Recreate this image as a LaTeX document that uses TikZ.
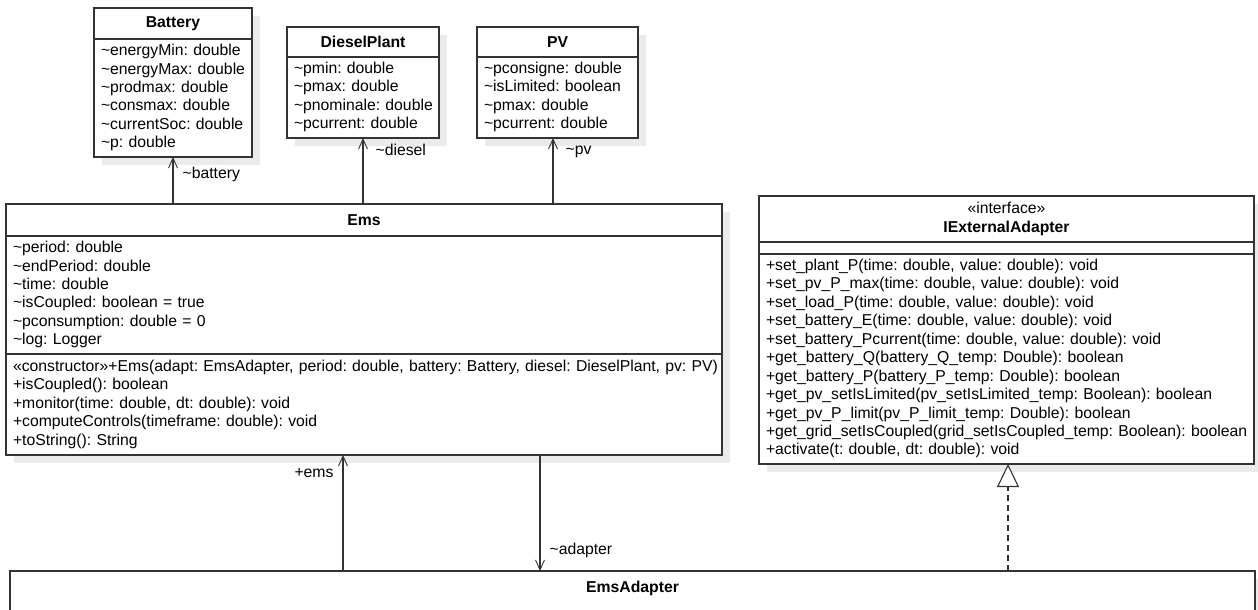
\documentclass[tikz,border=0pt]{standalone}
\usepackage{fontspec}
\setmainfont{Liberation Sans}
\usetikzlibrary{arrows.meta,positioning,shadows}
\newcommand{\pkgvis}{\textasciitilde}
\newcommand{\nohyph}{\hyphenpenalty=10000\relax\rightskip=0pt minus 40pt\relax}

\begin{document}
\begin{tikzpicture}[
  x=1pt, y=-1pt,
  font=\fontsize{15.75}{18.45}\selectfont\frenchspacing,
  cls/.style={draw=black!80, line width=1.1pt, fill=white, outer sep=0pt, inner xsep=7pt, inner ysep=0pt,
    drop shadow={shadow xshift=8pt, shadow yshift=-8pt, fill=black!8, opacity=1}},
  head/.style={cls, font=\fontsize{15.75}{18.6}\selectfont\bfseries, align=center},
  body/.style={cls, align=left, execute at begin node=\nohyph\strut, execute at end node=\strut},
  assoc/.style={-{Straight Barb[length=10pt,width=9pt,line width=0.9pt]}, line width=1.1pt, black!80},
  real/.style={-{Triangle[open,length=23pt,width=22pt,fill=white]}, line width=1.1pt, black!80, dash pattern=on 6pt off 4pt},
  lbl/.style={inner sep=1pt, text=black},
]
  \useasboundingbox (0,0) rectangle (1258,610);
  \clip (0,0) rectangle (1258,610);

  % entity classes
  \node[head, minimum width=158pt, minimum height=31pt, anchor=north west] (bathead) at (94,8) {Battery};
  \node[body, below=0pt of bathead, text width=144pt, minimum height=118pt] (batattr)
    {\pkgvis energyMin: double\\\pkgvis energyMax: double\\\pkgvis prodmax: double\\\pkgvis consmax: double\\\pkgvis currentSoc: double\\\pkgvis p: double};

  \node[head, minimum width=152pt, minimum height=30pt, anchor=north west] (dphead) at (287,27) {DieselPlant};
  \node[body, below=0pt of dphead, text width=138pt, minimum height=81pt] (dpattr)
    {\pkgvis pmin: double\\\pkgvis pmax: double\\\pkgvis pnominale: double\\\pkgvis pcurrent: double};

  \node[head, minimum width=161pt, minimum height=30pt, anchor=north west] (pvhead) at (477,27) {PV};
  \node[body, below=0pt of pvhead, text width=147pt, minimum height=81pt] (pvattr)
    {\pkgvis pconsigne: double\\\pkgvis isLimited: boolean\\\pkgvis pmax: double\\\pkgvis pcurrent: double};

  % controller
  \node[head, minimum width=716pt, minimum height=32pt, anchor=north west] (emshead) at (6,204) {Ems};
  \node[body, below=0pt of emshead, text width=702pt, minimum height=118pt] (emsattr)
    {\pkgvis period: double\\\pkgvis endPeriod: double\\\pkgvis time: double\\\pkgvis isCoupled: boolean = true\\\pkgvis pconsumption: double = 0\\\pkgvis log: Logger};
  \node[body, below=0pt of emsattr, text width=702pt, minimum height=101pt] (emsops)
    {«constructor»+Ems(adapt: EmsAdapter, period: double, battery: Battery, diesel: DieselPlant, pv: PV)\\+isCoupled(): boolean\\+monitor(time: double, dt: double): void\\+computeControls(timeframe: double): void\\+toString(): String};

  % interface
  \node[head, minimum width=495pt, minimum height=46pt, anchor=north west] (ifhead) at (759,196) {{\mdseries «interface»}\\IExternalAdapter};
  \node[cls, below=0pt of ifhead, minimum width=495pt, minimum height=12pt] (ifattr) {};
  \node[body, below=0pt of ifattr, text width=481pt, minimum height=210pt] (ifops)
    {+set\_plant\_P(time: double, value: double): void\\+set\_pv\_P\_max(time: double, value: double): void\\+set\_load\_P(time: double, value: double): void\\+set\_battery\_E(time: double, value: double): void\\+set\_battery\_Pcurrent(time: double, value: double): void\\+get\_battery\_Q(battery\_Q\_temp: Double): boolean\\+get\_battery\_P(battery\_P\_temp: Double): boolean\\+get\_pv\_setIsLimited(pv\_setIsLimited\_temp: Boolean): boolean\\+get\_pv\_P\_limit(pv\_P\_limit\_temp: Double): boolean\\+get\_grid\_setIsCoupled(grid\_setIsCoupled\_temp: Boolean): boolean\\+activate(t: double, dt: double): void};

  \node[head, minimum width=1245pt, anchor=north west, text height=21.5pt, text depth=60pt] (adapter) at (10,571) {EmsAdapter};

  % associations
  \draw[assoc] (bathead.north |- emshead.north) -- node[lbl, right=8pt, pos=.62]{\pkgvis battery} (batattr.south);
  \draw[assoc] (dphead.north |- emshead.north) -- node[lbl, right=11pt, pos=.82]{\pkgvis diesel} (dpattr.south);
  \draw[assoc] ([xshift=-4.5pt]pvattr.south |- emshead.north) -- node[lbl, right=11pt, pos=.79]{\pkgvis pv} ([xshift=-4.5pt]pvattr.south);
  \draw[assoc] ([xshift=-21pt]emsops.south |- adapter.north) -- node[lbl, left=8pt, pos=.845]{+ems} ([xshift=-21pt]emsops.south);
  \draw[assoc] ([xshift=176pt]emsops.south) -- node[lbl, right=8pt, pos=.82]{\pkgvis adapter} ([xshift=176pt]emsops.south |- adapter.north);
  \draw[real] ([xshift=1.5pt]ifops.south |- adapter.north) -- ([xshift=1.5pt]ifops.south);
\end{tikzpicture}
\end{document}
